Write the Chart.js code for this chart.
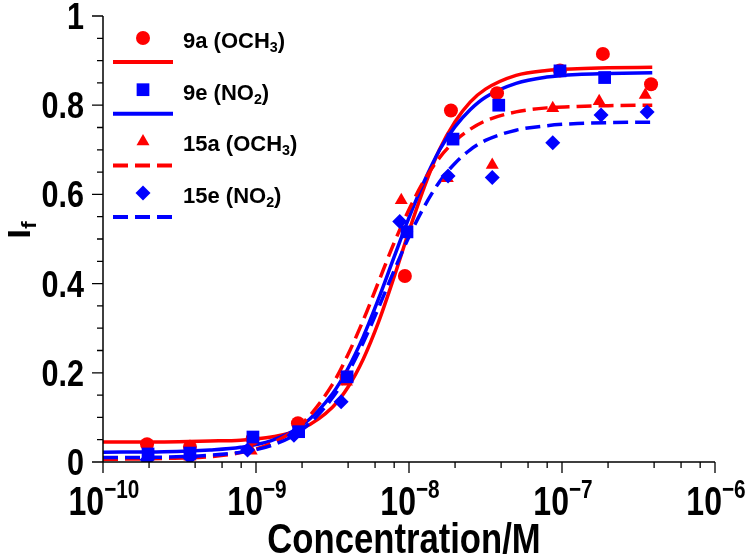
<!DOCTYPE html>
<html><head><meta charset="utf-8">
<script src="https://cdn.jsdelivr.net/npm/chart.js@4.4.1/dist/chart.umd.min.js"></script>
<style>html,body{margin:0;padding:0;background:#fff}</style>
</head><body>
<canvas id="c" width="750" height="559"></canvas>
<script>
// ---------- data ----------
const seriesNames = ['9a (OCH3)', '9e (NO2)', '15a (OCH3)', '15e (NO2)'];

const x9a  = [1.94e-10, 3.7e-10, 9.5e-10, 1.88e-9, 3.9e-9, 9.4e-9, 1.88e-8, 3.76e-8, 9.7e-8, 1.85e-7, 3.82e-7];
const y9a  = [0.040, 0.034, 0.052, 0.087, 0.190, 0.417, 0.788, 0.827, 0.878, 0.915, 0.847];

const x9e  = [1.97e-10, 3.7e-10, 9.55e-10, 1.9e-9, 3.94e-9, 9.7e-9, 1.94e-8, 3.86e-8, 9.7e-8, 1.9e-7];
const y9e  = [0.018, 0.020, 0.056, 0.068, 0.191, 0.516, 0.724, 0.800, 0.877, 0.862];

const x15a = [1.94e-10, 3.7e-10, 9.3e-10, 1.88e-9, 3.9e-9, 8.9e-9, 1.78e-8, 3.5e-8, 8.7e-8, 1.75e-7, 3.5e-7];
const y15a = [0.010, 0.012, 0.025, 0.075, 0.180, 0.587, 0.636, 0.666, 0.793, 0.809, 0.823];

const x15e = [1.94e-10, 3.7e-10, 8.8e-10, 1.77e-9, 3.6e-9, 8.7e-9, 1.8e-8, 3.5e-8, 8.7e-8, 1.8e-7, 3.6e-7];
const y15e = [0.005, 0.010, 0.027, 0.060, 0.135, 0.539, 0.641, 0.638, 0.716, 0.778, 0.785];

// fitted curves
const fitX   = [1e-10, 2.51e-10, 5.01e-10, 7.94e-10, 1.26e-9, 2e-9, 3.16e-9, 3.98e-9, 5.01e-9, 6.31e-9, 7.94e-9, 1e-8, 1.26e-8, 1.58e-8, 2e-8, 2.51e-8, 3.16e-8, 5.01e-8, 7.94e-8, 1.26e-7, 2e-7, 3.89e-7];
const fit9a  = [0.045, 0.045, 0.047, 0.049, 0.056, 0.075, 0.123, 0.167, 0.230, 0.313, 0.412, 0.518, 0.617, 0.700, 0.763, 0.807, 0.836, 0.867, 0.878, 0.882, 0.884, 0.885];
const fit9e  = [0.022, 0.023, 0.027, 0.033, 0.048, 0.082, 0.153, 0.209, 0.280, 0.365, 0.457, 0.548, 0.630, 0.699, 0.752, 0.790, 0.818, 0.849, 0.863, 0.869, 0.871, 0.873];
const fit15a = [0.006, 0.008, 0.012, 0.021, 0.042, 0.086, 0.174, 0.240, 0.317, 0.403, 0.489, 0.566, 0.632, 0.682, 0.720, 0.746, 0.765, 0.785, 0.794, 0.797, 0.799, 0.800];
const fit15e = [0.010, 0.011, 0.015, 0.022, 0.037, 0.072, 0.144, 0.199, 0.267, 0.345, 0.427, 0.505, 0.573, 0.628, 0.670, 0.700, 0.721, 0.744, 0.754, 0.759, 0.761, 0.762];

// axis ticks
const xMajorTicks = [1e-10, 1e-9, 1e-8, 1e-7, 1e-6];
const xTickExponents = ['\u221210', '\u22129', '\u22128', '\u22127', '\u22126'];
const xMinorFactors = [2, 4, 6, 8];
const yMajorTicks = [0, 0.2, 0.4, 0.6, 0.8, 1];
const yTickLabels = ['0', '0.2', '0.4', '0.6', '0.8', '1'];
const yMinorStep = 0.05;

// ---------- styles ----------
const RED = '#ff0000', BLUE = '#0000ff';
const FAMILY = '"Liberation Sans", Arial, sans-serif';
const DASH = [15, 7];

function pts(xs, ys) { return xs.map((x, i) => ({x: x, y: ys[i]})); }

const fitStyle = (color, dashed, order) => ({
  type: 'line', borderColor: color, borderWidth: 3.5, pointRadius: 0, fill: false,
  cubicInterpolationMode: 'monotone', borderDash: dashed ? DASH : [], order: order
});
const markStyle = (color, style, r, order) => ({
  type: 'scatter', showLine: false, backgroundColor: color, borderColor: color, borderWidth: 0,
  pointStyle: style, pointRadius: r, pointHoverRadius: r, order: order
});

const datasets = [
  Object.assign({label: seriesNames[0] + ' fit', data: pts(fitX, fit9a)}, fitStyle(RED, false, 10)),
  Object.assign({label: seriesNames[1] + ' fit', data: pts(fitX, fit9e)}, fitStyle(BLUE, false, 9)),
  Object.assign({label: seriesNames[2] + ' fit', data: pts(fitX, fit15a)}, fitStyle(RED, true, 8)),
  Object.assign({label: seriesNames[3] + ' fit', data: pts(fitX, fit15e)}, fitStyle(BLUE, true, 7)),
  Object.assign({label: seriesNames[0], data: pts(x9a, y9a)}, markStyle(RED, 'circle', 7, 6)),
  Object.assign({label: seriesNames[2], data: pts(x15a, y15a)}, markStyle(RED, 'triangle', 7.5, 5)),
  Object.assign({label: seriesNames[1], data: pts(x9e, y9e)}, markStyle(BLUE, 'rect', 9, 4)),
  Object.assign({label: seriesNames[3], data: pts(x15e, y15e)}, markStyle(BLUE, 'rectRot', 7.5, 3))
];

// rich text helper: segments [{t, sub, sup}], sx = horizontal squeeze
function drawRich(ctx, segs, x, y, size, align, sx) {
  sx = sx || 1;
  const sizes = segs.map(s => (s.sub || s.sup) ? size * 0.65 : size);
  let total = 0;
  segs.forEach((s, i) => { ctx.font = 'bold ' + sizes[i] + 'px ' + FAMILY; total += ctx.measureText(s.t).width; });
  let cx = align === 'center' ? -total / 2 : (align === 'right' ? -total : 0);
  ctx.save();
  ctx.translate(x, y); ctx.scale(sx, 1);
  ctx.textAlign = 'left'; ctx.textBaseline = 'alphabetic';
  segs.forEach((s, i) => {
    ctx.font = 'bold ' + sizes[i] + 'px ' + FAMILY;
    const dy = s.sub ? size * 0.18 : (s.sup ? -size * 0.42 : 0);
    ctx.fillText(s.t, cx, dy);
    cx += ctx.measureText(s.t).width;
  });
  ctx.restore();
}
function splitChem(name) {
  const m = name.match(/^(.*\([A-Z]+)(\d)(\))$/);
  return m ? [{t: m[1]}, {t: m[2], sub: true}, {t: m[3]}] : [{t: name}];
}
function shape(ctx, style, x, y, r) {
  ctx.beginPath();
  if (style === 'circle') ctx.arc(x, y, r, 0, Math.PI * 2);
  else if (style === 'rect') { const s = r * Math.SQRT1_2; ctx.rect(x - s, y - s, 2 * s, 2 * s); }
  else if (style === 'triangle') { ctx.moveTo(x, y - r); ctx.lineTo(x + r * 0.866, y + r * 0.5); ctx.lineTo(x - r * 0.866, y + r * 0.5); ctx.closePath(); }
  else if (style === 'rectRot') { ctx.moveTo(x, y - r); ctx.lineTo(x + r, y); ctx.lineTo(x, y + r); ctx.lineTo(x - r, y); ctx.closePath(); }
  ctx.fill();
}

const decorPlugin = {
  id: 'decor',
  afterDraw(chart) {
    const ctx = chart.ctx, xs = chart.scales.x, ys = chart.scales.y;
    const x0 = xs.getPixelForValue(xMajorTicks[0]);
    const x1 = xs.getPixelForValue(xMajorTicks[xMajorTicks.length - 1]);
    const yb = ys.getPixelForValue(0), yt = ys.getPixelForValue(1);
    ctx.save();
    ctx.strokeStyle = '#000'; ctx.fillStyle = '#000';
    ctx.lineWidth = 1.5;
    ctx.beginPath(); ctx.moveTo(x0, yb); ctx.lineTo(x1, yb); ctx.moveTo(x0, yb); ctx.lineTo(x0, yt); ctx.stroke();
    ctx.lineWidth = 1.3;
    ctx.beginPath();
    xMajorTicks.forEach((v, i) => {
      const px = xs.getPixelForValue(v);
      ctx.moveTo(px, yb); ctx.lineTo(px, yb + 11);
      if (i < xMajorTicks.length - 1) xMinorFactors.forEach(f => {
        const mx = xs.getPixelForValue(v * f); ctx.moveTo(mx, yb); ctx.lineTo(mx, yb + 6);
      });
    });
    for (let k = 0; k <= Math.round(1 / yMinorStep); k++) {
      const py = ys.getPixelForValue(k * yMinorStep);
      ctx.moveTo(x0, py); ctx.lineTo(x0 - (k % 4 === 0 ? 11 : 6), py);
    }
    ctx.stroke();
    // y tick labels
    yMajorTicks.forEach((v, i) => drawRich(ctx, [{t: yTickLabels[i]}], 84, ys.getPixelForValue(v) + 13, 36, 'right', 0.85));
    // x tick labels
    xMajorTicks.forEach((v, i) => {
      drawRich(ctx, [{t: '10'}, {t: xTickExponents[i], sup: true}], xs.getPixelForValue(v) + 1, 515, 40, 'center', 0.8);
    });
    // x title
    drawRich(ctx, [{t: 'Concentration/M'}], 404, 553, 42, 'center', 0.825);
    // y title (rotated)
    ctx.save(); ctx.translate(30, 230); ctx.rotate(-Math.PI / 2);
    drawRich(ctx, [{t: 'I'}, {t: 'f', sub: true}], 0, 0, 32, 'center', 1.1);
    ctx.restore();
    // legend
    const entries = [
      {name: seriesNames[0], color: RED, style: 'circle', r: 7, dash: false},
      {name: seriesNames[1], color: BLUE, style: 'rect', r: 9, dash: false},
      {name: seriesNames[2], color: RED, style: 'triangle', r: 7.5, dash: true},
      {name: seriesNames[3], color: BLUE, style: 'rectRot', r: 7.5, dash: true}
    ];
    entries.forEach((e, i) => {
      const y0 = 38 + i * 51.7;
      ctx.fillStyle = e.color; ctx.strokeStyle = e.color;
      shape(ctx, e.style, 143, y0, e.r);
      ctx.lineWidth = 4; ctx.setLineDash(e.dash ? DASH : []);
      ctx.beginPath(); ctx.moveTo(113, y0 + 24); ctx.lineTo(173, y0 + 24); ctx.stroke();
      ctx.setLineDash([]);
      ctx.fillStyle = '#000';
      drawRich(ctx, splitChem(e.name), 183, y0 + 10, 22, 'left', 1);
    });
    ctx.restore();
  }
};

new Chart(document.getElementById('c'), {
  data: {datasets: datasets},
  options: {
    responsive: false, animation: false, devicePixelRatio: 1,
    layout: {padding: {left: 103, right: 35, top: 16, bottom: 97}},
    plugins: {legend: {display: false}, tooltip: {enabled: false}},
    scales: {
      x: {type: 'logarithmic', min: 1e-10, max: 1e-6, display: false},
      y: {type: 'linear', min: 0, max: 1, display: false}
    }
  },
  plugins: [decorPlugin]
});
</script>
</body></html>
